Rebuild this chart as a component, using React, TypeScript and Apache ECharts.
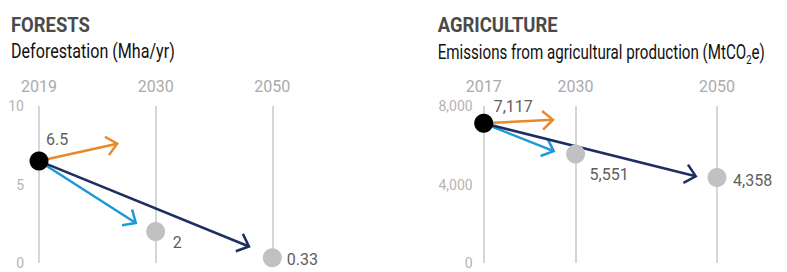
import React, { useEffect, useRef } from "react";
import * as echarts from "echarts";

// ---------- data ----------
const FOREST_YEARS = ["2019", "2030", "2050"];
const FOREST_VALUES = [6.5, 2, 0.33];
// arrow end points (x = position index along the year axis, y = Mha/yr)
const FOREST_ARROW_X = [0.67, 0.83, 1.8];
const FOREST_ARROW_Y = [7.6, 2.55, 1.05];

const AG_YEARS = [2017, 2030, 2050];
const AG_VALUES = [7117, 5551, 4358];
// arrow end points (x = year, y = MtCO2e)
const AG_ARROW_X = [2026.8, 2026.9, 2047.0];
const AG_ARROW_Y = [7300, 5700, 4420];

const TITLES = ["FORESTS", "AGRICULTURE"];
const SUBTITLE_LEFT = "Deforestation (Mha/yr)";
const SUBTITLE_RIGHT = ["Emissions from agricultural production (MtCO", "2", "e)"];

// ---------- styles ----------
const FONT = "Roboto, 'Noto Sans', sans-serif";
const ARROW_COLORS = ["#E8892B", "#1B9AD6", "#1D2F62"];
const GRID_COLOR = "#d6d6d6";
const DOT_GRAY = "#c1c1c3";
const LABEL_COLOR = "#5e5e5e";
const TICK_COLOR = "#b4b4b4";
const YEAR_COLOR = "#ababab";
const TITLE_SIZE = 21;
const SUB_SIZE = 21;
const SUBSCRIPT_SIZE = 13;
// target widths of the heading texts (condensed look)
const W_TITLE = [79, 120];
const W_SUB = [164, 327];

const FOREST_LABEL_POS = [[16.5, -11.5], [26.5, 20], [24, 11]];
const AG_LABEL_POS = [[19.5, -7], [23.5, 29.5], [25.5, 12.5]];

const fmtThousands = (v: number) => v.toLocaleString("en-US");

let ctx2d: CanvasRenderingContext2D | null = null;
function measure(text: string, font: string) {
  if (!ctx2d) ctx2d = document.createElement("canvas").getContext("2d");
  if (!ctx2d) return text.length * 10;
  ctx2d.font = font;
  return ctx2d.measureText(text).width;
}

function arrowRender(params: any, api: any) {
  const p0 = api.coord([api.value(0), api.value(1)]);
  const p1 = api.coord([api.value(2), api.value(3)]);
  const color = ARROW_COLORS[api.value(4)];
  const ang = Math.atan2(p1[1] - p0[1], p1[0] - p0[0]);
  const L = 14;
  const spread = (42 * Math.PI) / 180;
  const a1 = [p1[0] - L * Math.cos(ang - spread), p1[1] - L * Math.sin(ang - spread)];
  const a2 = [p1[0] - L * Math.cos(ang + spread), p1[1] - L * Math.sin(ang + spread)];
  return {
    type: "group",
    children: [
      {
        type: "line",
        shape: { x1: p0[0], y1: p0[1], x2: p1[0], y2: p1[1] },
        style: { stroke: color, lineWidth: 2.5, fill: null },
      },
      {
        type: "polyline",
        shape: { points: [a1, p1, a2] },
        style: { stroke: color, lineWidth: 2.5, fill: null, lineJoin: "miter" },
      },
    ],
  };
}

function buildOption() {
  const forestGridLines = FOREST_YEARS.map((_, i) => ({ xAxis: i }));
  const agGridLines = AG_YEARS.map((y) => ({ xAxis: y }));

  const dataLabel = (text: string, pos: number[]) => ({
    show: true,
    position: pos,
    align: "left",
    verticalAlign: "middle",
    formatter: text,
    color: LABEL_COLOR,
    fontSize: 16,
    fontFamily: FONT,
  });

  const forestGray = FOREST_VALUES.slice(1).map((v, k) => ({
    value: [k + 1, v],
    label: dataLabel(String(v), FOREST_LABEL_POS[k + 1]),
  }));
  const agGray = AG_VALUES.slice(1).map((v, k) => ({
    value: [AG_YEARS[k + 1], v],
    label: dataLabel(fmtThousands(v), AG_LABEL_POS[k + 1]),
  }));

  const forestArrows = FOREST_ARROW_X.map((x, i) => [0, FOREST_VALUES[0], x, FOREST_ARROW_Y[i], i]);
  const agArrows = AG_ARROW_X.map((x, i) => [AG_YEARS[0], AG_VALUES[0], x, AG_ARROW_Y[i], i]);

  const xCommon = {
    type: "value",
    position: "top",
    axisLine: { show: false },
    axisTick: { show: false },
    splitLine: { show: false },
  };
  const yCommon = {
    type: "value",
    axisLine: { show: false },
    axisTick: { show: false },
    splitLine: { show: false },
  };

  const markLine = (data: any[]) => ({
    silent: true,
    symbol: "none",
    label: { show: false },
    lineStyle: { color: GRID_COLOR, width: 2, type: "solid", opacity: 1 },
    data,
    z: 0,
  });

  // condensed headings: scale horizontally to the reference widths
  const tFont = `bold ${TITLE_SIZE}px ${FONT}`;
  const sFont = `${SUB_SIZE}px ${FONT}`;
  const subFont = `${SUBSCRIPT_SIZE}px ${FONT}`;
  const titleScale = TITLES.map((t, i) => W_TITLE[i] / measure(t, tFont));
  const subLeftScale = W_SUB[0] / measure(SUBTITLE_LEFT, sFont);
  const subRightW =
    measure(SUBTITLE_RIGHT[0], sFont) + measure(SUBTITLE_RIGHT[1], subFont) + measure(SUBTITLE_RIGHT[2], sFont);
  const subRightScale = W_SUB[1] / subRightW;

  return {
    animation: false,
    textStyle: { fontFamily: FONT },
    grid: [
      { left: 39, top: 106, width: 233.3, height: 157 },
      { left: 483.7, top: 106, width: 233.3, height: 157 },
    ],
    xAxis: [
      {
        ...xCommon,
        gridIndex: 0,
        min: 0,
        max: 2,
        interval: 1,
        axisLabel: {
          formatter: (v: number) => FOREST_YEARS[v] ?? "",
          color: YEAR_COLOR,
          fontSize: 16,
          margin: 12,
          fontFamily: FONT,
        },
      },
      {
        ...xCommon,
        gridIndex: 1,
        min: 2017,
        max: 2050,
        interval: 1,
        axisLabel: {
          formatter: (v: number) => (AG_YEARS.includes(v) ? String(v) : ""),
          color: YEAR_COLOR,
          fontSize: 16,
          margin: 12,
          fontFamily: FONT,
        },
      },
    ],
    yAxis: [
      {
        ...yCommon,
        gridIndex: 0,
        min: 0,
        max: 10,
        interval: 5,
        axisLabel: { color: TICK_COLOR, fontSize: 14, margin: 15, fontFamily: FONT },
      },
      {
        ...yCommon,
        gridIndex: 1,
        min: 0,
        max: 8000,
        interval: 4000,
        axisLabel: {
          color: TICK_COLOR,
          fontSize: 14,
          margin: 11,
          fontFamily: FONT,
          formatter: (v: number) => fmtThousands(v),
        },
      },
    ],
    graphic: [
      {
        type: "text",
        x: 11,
        y: 25,
        scaleX: titleScale[0],
        style: { text: TITLES[0], fill: "#4a4a4a", fontSize: TITLE_SIZE, fontWeight: "bold", fontFamily: FONT, textVerticalAlign: "middle" },
      },
      {
        type: "text",
        x: 11,
        y: 51.5,
        scaleX: subLeftScale,
        style: { text: SUBTITLE_LEFT, fill: "#111", fontSize: SUB_SIZE, fontFamily: FONT, textVerticalAlign: "middle" },
      },
      {
        type: "text",
        x: 437.7,
        y: 25,
        scaleX: titleScale[1],
        style: { text: TITLES[1], fill: "#4a4a4a", fontSize: TITLE_SIZE, fontWeight: "bold", fontFamily: FONT, textVerticalAlign: "middle" },
      },
      {
        type: "text",
        x: 437.7,
        y: 51.5,
        scaleX: subRightScale,
        style: {
          text: `{a|${SUBTITLE_RIGHT[0]}}{s|${SUBTITLE_RIGHT[1]}}{a|${SUBTITLE_RIGHT[2]}}`,
          textVerticalAlign: "middle",
          rich: {
            a: { fill: "#111", fontSize: SUB_SIZE, fontFamily: FONT, lineHeight: 28, verticalAlign: "middle" },
            s: { fill: "#111", fontSize: SUBSCRIPT_SIZE, fontFamily: FONT, lineHeight: 13, verticalAlign: "bottom" },
          },
        },
      },
    ],
    series: [
      // Forests
      {
        type: "scatter",
        xAxisIndex: 0,
        yAxisIndex: 0,
        symbolSize: 19,
        itemStyle: { color: DOT_GRAY, opacity: 1 },
        data: forestGray,
        markLine: markLine(forestGridLines),
        silent: true,
      },
      {
        type: "custom",
        xAxisIndex: 0,
        yAxisIndex: 0,
        renderItem: arrowRender,
        encode: { x: [0, 2], y: [1, 3] },
        data: forestArrows,
        silent: true,
      },
      {
        type: "scatter",
        xAxisIndex: 0,
        yAxisIndex: 0,
        symbolSize: 19,
        itemStyle: { color: "#000", opacity: 1 },
        data: [{ value: [0, FOREST_VALUES[0]], label: dataLabel(String(FOREST_VALUES[0]), FOREST_LABEL_POS[0]) }],
        silent: true,
      },
      // Agriculture
      {
        type: "scatter",
        xAxisIndex: 1,
        yAxisIndex: 1,
        symbolSize: 19,
        itemStyle: { color: DOT_GRAY, opacity: 1 },
        data: agGray,
        markLine: markLine(agGridLines),
        silent: true,
      },
      {
        type: "custom",
        xAxisIndex: 1,
        yAxisIndex: 1,
        renderItem: arrowRender,
        encode: { x: [0, 2], y: [1, 3] },
        data: agArrows,
        silent: true,
      },
      {
        type: "scatter",
        xAxisIndex: 1,
        yAxisIndex: 1,
        symbolSize: 19,
        itemStyle: { color: "#000", opacity: 1 },
        data: [{ value: [AG_YEARS[0], AG_VALUES[0]], label: dataLabel(fmtThousands(AG_VALUES[0]), AG_LABEL_POS[0]) }],
        silent: true,
      },
    ],
  };
}

export default function App() {
  const ref = useRef<HTMLDivElement>(null);
  useEffect(() => {
    if (!ref.current) return;
    const chart = echarts.init(ref.current, null, { renderer: "svg" });
    chart.setOption(buildOption() as any);
    return () => chart.dispose();
  }, []);
  return (
    <div
      ref={ref}
      style={{ position: "absolute", left: 0, top: 0, width: 787, height: 272, background: "#fff" }}
    />
  );
}
